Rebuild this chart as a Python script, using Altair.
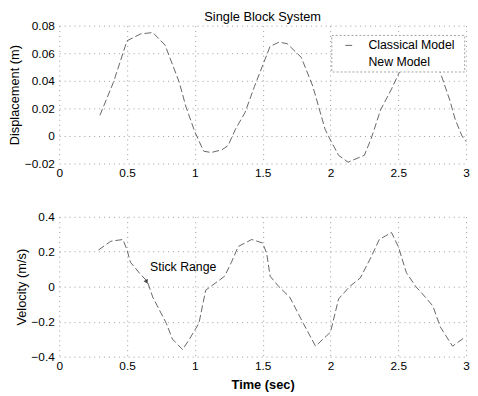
import altair as alt
import pandas as pd

# Displacement (top panel)
t_disp = [0.30, 0.40, 0.50, 0.60, 0.69, 0.78, 0.885, 0.935, 1.00, 1.065, 1.12, 1.20, 1.245, 1.30,
          1.37, 1.44, 1.555, 1.62, 1.68, 1.785, 1.87, 1.96, 2.00, 2.06, 2.13, 2.25, 2.30, 2.37,
          2.45, 2.55, 2.63, 2.72, 2.81, 2.88, 2.92, 2.97, 3.00]
disp = [0.015, 0.039, 0.069, 0.074, 0.075, 0.066, 0.039, 0.021, 0.003, -0.011, -0.012, -0.010,
        -0.007, 0.005, 0.017, 0.036, 0.065, 0.068, 0.067, 0.057, 0.036, 0.005, -0.003, -0.014,
        -0.019, -0.014, -0.002, 0.019, 0.034, 0.055, 0.062, 0.058, 0.046, 0.026, 0.012, 0.000, -0.004]

# Velocity (bottom panel)
t_vel = [0.29, 0.38, 0.47, 0.50, 0.525, 0.60, 0.65, 0.69, 0.79, 0.835, 0.91, 0.96, 1.03, 1.08,
         1.15, 1.22, 1.27, 1.32, 1.42, 1.50, 1.53, 1.555, 1.62, 1.70, 1.80, 1.89, 2.00, 2.06,
         2.14, 2.22, 2.30, 2.36, 2.45, 2.50, 2.56, 2.63, 2.70, 2.755, 2.81, 2.90, 2.99]
vel = [0.21, 0.26, 0.27, 0.21, 0.14, 0.07, 0.03, -0.06, -0.21, -0.30, -0.36, -0.30, -0.21, -0.02,
       0.02, 0.06, 0.14, 0.23, 0.27, 0.25, 0.19, 0.06, 0.00, -0.06, -0.21, -0.34, -0.26, -0.07,
       0.00, 0.05, 0.17, 0.27, 0.31, 0.23, 0.08, 0.00, -0.06, -0.11, -0.23, -0.34, -0.29]

x_ticks = [0, 0.5, 1, 1.5, 2, 2.5, 3]
disp_ticks = [-0.02, 0, 0.02, 0.04, 0.06, 0.08]
vel_ticks = [-0.4, -0.2, 0, 0.2, 0.4]
legend_labels = ["Classical Model", "New Model"]
annotation = "Stick Range"

FONT = "Liberation Sans"
W = 413
LINE = "#666666"

df_d = pd.DataFrame({"t": t_disp, "y": disp})
df_v = pd.DataFrame({"t": t_vel, "y": vel})

xscale = alt.Scale(domain=[0, 3], nice=False, zero=False)
yscale_top = alt.Scale(domain=[-0.02, 0.08], nice=False, zero=False)
yscale_bot = alt.Scale(domain=[-0.4, 0.4], nice=False, zero=False)

LBL = "format(datum.value, '~g')"
xax_top = alt.Axis(values=x_ticks, title=None, labelExpr=LBL)
xax_bot = alt.Axis(values=x_ticks, title="Time (sec)", labelExpr=LBL)
yax_top = alt.Axis(values=disp_ticks, title="Displacement (m)", labelExpr=LBL)
yax_bot = alt.Axis(values=vel_ticks, title="Velocity (m/s)", labelExpr=LBL)

# ---- top panel ----
top_line = alt.Chart(df_d).mark_line(color=LINE, strokeWidth=1, strokeDash=[7, 3]).encode(
    x=alt.X("t:Q", scale=xscale, axis=xax_top),
    y=alt.Y("y:Q", scale=yscale_top, axis=yax_top),
)

one = pd.DataFrame({"a": [0]})
legend_box = alt.Chart(one).mark_rect(
    fill="white", stroke="#888888", strokeWidth=0.8, strokeDash=[2, 2]
).encode(
    x=alt.XDatum(2.01, scale=xscale, axis=xax_top), x2=alt.X2Datum(2.99),
    y=alt.YDatum(0.0729, scale=yscale_top, axis=yax_top), y2=alt.Y2Datum(0.0464),
)
legend_dash = alt.Chart(one).mark_rule(color=LINE, strokeWidth=1).encode(
    x=alt.XDatum(2.11, scale=xscale, axis=xax_top), x2=alt.X2Datum(2.16),
    y=alt.YDatum(0.0657, scale=yscale_top, axis=yax_top),
)
legend_text = alt.Chart(pd.DataFrame({"label": legend_labels, "yy": [0.0657, 0.0536]})).mark_text(
    align="left", baseline="middle", font=FONT, fontSize=12.5, color="black"
).encode(
    x=alt.XDatum(2.28, scale=xscale, axis=xax_top),
    y=alt.Y("yy:Q", scale=yscale_top, axis=yax_top),
    text="label:N",
)

top = alt.layer(top_line, legend_box, legend_dash, legend_text).properties(
    width=W, height=140,
    title=alt.TitleParams("Single Block System", font=FONT, fontSize=13, fontWeight="normal",
                          color="black", offset=-4),
)

# ---- bottom panel ----
bot_line = alt.Chart(df_v).mark_line(color=LINE, strokeWidth=1, strokeDash=[7, 3]).encode(
    x=alt.X("t:Q", scale=xscale, axis=xax_bot),
    y=alt.Y("y:Q", scale=yscale_bot, axis=yax_bot),
)
ann_text = alt.Chart(pd.DataFrame({"label": [annotation]})).mark_text(
    align="left", baseline="middle", font=FONT, fontSize=12.5, color="black"
).encode(
    x=alt.XDatum(0.67, scale=xscale, axis=xax_bot),
    y=alt.YDatum(0.11, scale=yscale_bot, axis=yax_bot),
    text="label:N",
)
ann_arrow = alt.Chart(one).mark_point(
    shape="triangle-up", filled=True, color="black", size=25, angle=30
).encode(
    x=alt.XDatum(0.645, scale=xscale, axis=xax_bot),
    y=alt.YDatum(0.035, scale=yscale_bot, axis=yax_bot),
)

bottom = alt.layer(bot_line, ann_text, ann_arrow).properties(width=W, height=142)

chart = alt.vconcat(top, bottom, spacing=33).configure(
    padding={"left": 0, "top": 0, "right": 0, "bottom": 0}
).configure_view(strokeWidth=0).configure_axis(
    domain=False, ticks=False, grid=True, gridColor="#999999", gridDash=[1, 4],
    gridWidth=1, labelFont=FONT, labelFontSize=12, labelColor="black",
    titleFont=FONT, titleFontSize=13, titleFontWeight="normal", titleColor="black",
    labelPadding=5, titlePadding=3, labelOverlap=False, labelFlush=False,
).configure_axisX(titleFontWeight="bold", labelPadding=4, titlePadding=7)

chart.save("out.html", embed_options={"renderer": "svg", "actions": False})
